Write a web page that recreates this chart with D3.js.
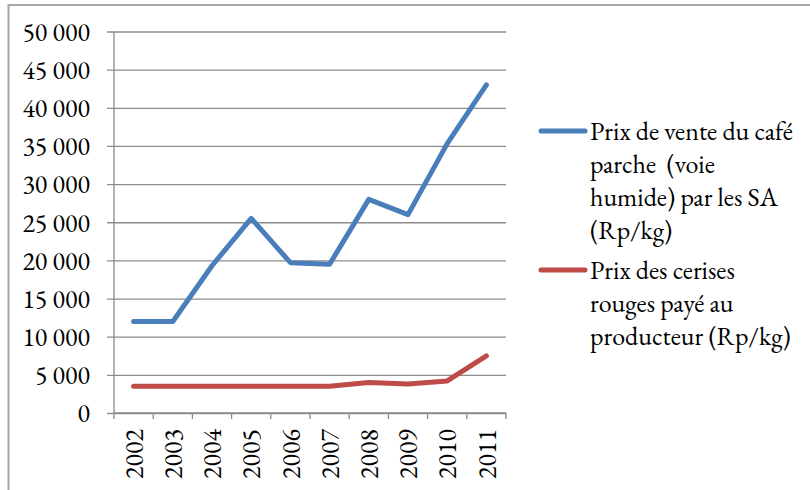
<!DOCTYPE html>
<html><head><meta charset="utf-8">
<script src="https://cdn.jsdelivr.net/npm/d3@7"></script>
<style>
html,body{margin:0;padding:0;background:#fff;}
svg{display:block;}
</style></head>
<body>
<svg id="c" width="810" height="490"></svg>
<script>
const years = ["2002","2003","2004","2005","2006","2007","2008","2009","2010","2011"];
const prixParche = [12000,12000,19300,25500,19700,19500,28000,26000,35300,43000];
const prixCerises = [3500,3500,3500,3500,3500,3500,4000,3800,4200,7500];
const yTicks = [0,5000,10000,15000,20000,25000,30000,35000,40000,45000,50000];
const legendParche = ["Prix de vente du café","parche  (voie","humide) par les SA","(Rp/kg)"];
const legendCerises = ["Prix des cerises","rouges payé au","producteur (Rp/kg)"];

const FONT = "'EB Garamond'";
const svg = d3.select("#c");
const L = 114, R = 506, T = 31.5, B = 413;
const fs = 26;

// outer frame
svg.append("rect").attr("x",8.5).attr("y",5).attr("width",900).attr("height",600)
  .attr("fill","none").attr("stroke","#a6a6a6").attr("stroke-width",2);

const x = d3.scaleBand().domain(years).range([L,R]);
const y = d3.scaleLinear().domain([0,50000]).range([B,T]);

const fmt = v => d3.format(",")(v).replace(/,/g," ");

// gridlines + y axis
const yAxis = d3.axisLeft(y).tickValues(yTicks).tickSize(-(R-L)).tickPadding(24).tickFormat(fmt);
const gy = svg.append("g").attr("transform",`translate(${L},0)`).call(yAxis)
  .attr("font-family",null).attr("font-size",null);
gy.select(".domain").remove();
gy.selectAll(".tick line").attr("stroke","#8c8c8c").attr("stroke-width",1.3).attr("x1",-7);
gy.selectAll(".tick text").attr("dy","0.34em");
svg.append("line").attr("x1",L).attr("x2",L).attr("y1",T).attr("y2",B)
  .attr("stroke","#8c8c8c").attr("stroke-width",1.3);

// x axis
const gx = svg.append("g").attr("transform",`translate(0,${B})`);
gx.append("line").attr("x1",L).attr("x2",R).attr("stroke","#8c8c8c").attr("stroke-width",1.3);
const bounds = years.map(d=>x(d)).concat([R]);
gx.selectAll("line.tk").data(bounds).join("line").attr("class","tk")
  .attr("x1",d=>d).attr("x2",d=>d).attr("y1",0).attr("y2",6)
  .attr("stroke","#8c8c8c").attr("stroke-width",1.3);
gx.selectAll("text").data(years).join("text")
  .attr("transform",d=>`translate(${x(d)+x.bandwidth()/2},16) rotate(-90)`)
  .attr("text-anchor","end").attr("dy","0.35em").text(d=>d);

// lines
const line = d3.line().x((d,i)=>x(years[i])+x.bandwidth()/2).y(d=>y(d));
svg.append("path").datum(prixCerises).attr("d",line).attr("fill","none")
  .attr("stroke","#be4b48").attr("stroke-width",5).attr("stroke-linecap","round").attr("stroke-linejoin","round");
svg.append("path").datum(prixParche).attr("d",line).attr("fill","none")
  .attr("stroke","#4a7ebb").attr("stroke-width",5).attr("stroke-linecap","round").attr("stroke-linejoin","round");

// legend
const lg = svg.append("g");
function entry(lines, color, y0){
  lg.append("line").attr("x1",541).attr("x2",585).attr("y1",y0).attr("y2",y0)
    .attr("stroke",color).attr("stroke-width",5).attr("stroke-linecap","round");
  lines.forEach((t,i)=>{
    lg.append("text").attr("x",590).attr("y",y0+i*33).attr("dy","0.33em")
      .style("white-space","pre").text(t);
  });
}
entry(legendParche,"#4a7ebb",131);
entry(legendCerises,"#be4b48",270);

svg.selectAll("text").style("font-family",FONT).style("font-size",fs+"px").style("fill","#000");
</script>
</body></html>
